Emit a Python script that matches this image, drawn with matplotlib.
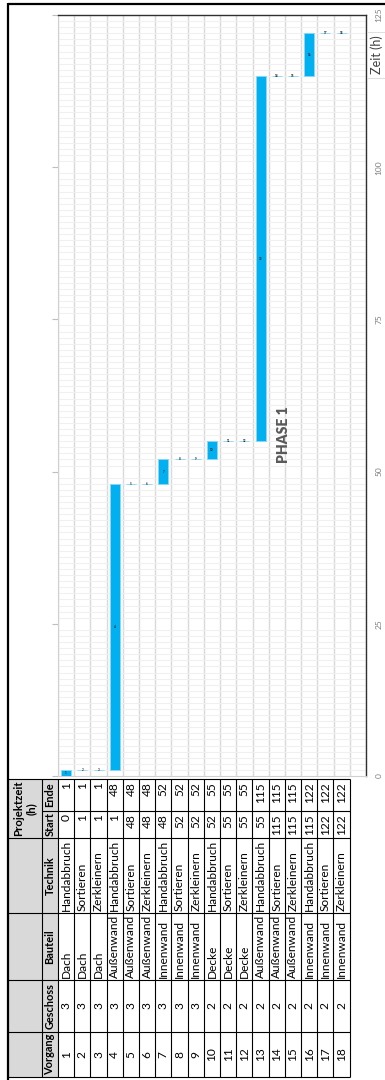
import numpy as np
import matplotlib
matplotlib.use('Agg')
import matplotlib.pyplot as plt
import matplotlib.patches as mpatches

plt.rcParams['font.family'] = ['Lato', 'DejaVu Sans']

# table / gantt data
vorgang = [1, 2, 3, 4, 5, 6, 7, 8, 9, 10, 11, 12, 13, 14, 15, 16, 17, 18]
geschoss = [3, 3, 3, 3, 3, 3, 3, 3, 3, 2, 2, 2, 2, 2, 2, 2, 2, 2]
bauteil = ['Dach', 'Dach', 'Dach', 'Außenwand', 'Außenwand', 'Außenwand',
           'Innenwand', 'Innenwand', 'Innenwand', 'Decke', 'Decke', 'Decke',
           'Außenwand', 'Außenwand', 'Außenwand', 'Innenwand', 'Innenwand', 'Innenwand']
technik = ['Handabbruch', 'Sortieren', 'Zerkleinern', 'Handabbruch', 'Sortieren', 'Zerkleinern',
           'Handabbruch', 'Sortieren', 'Zerkleinern', 'Handabbruch', 'Sortieren', 'Zerkleinern',
           'Handabbruch', 'Sortieren', 'Zerkleinern', 'Handabbruch', 'Sortieren', 'Zerkleinern']
start = [0, 1, 1, 1, 48, 48, 48, 52, 52, 52, 55, 55, 55, 115, 115, 115, 122, 122]
ende = [1, 1, 1, 48, 48, 48, 52, 52, 52, 55, 55, 55, 115, 115, 115, 122, 122, 122]
time_ticks = [0, 25, 50, 75, 100, 125]

W, H = 385, 1080
ROW_X0, ROW_W = 58, 16.2
HEAD_SPLIT = 42
# column bands (pixel y, top -> bottom): Ende, Start, Technik, Bauteil, Geschoss, Vorgang
COL_Y = [779, 811, 838, 913, 980, 1032, 1077]

fig = plt.figure(figsize=(W / 100, H / 100), dpi=100)
fig.patch.set_facecolor('white')

# pixel overlay for frame + table
tab = fig.add_axes([0, 0, 1, 1], zorder=0)
tab.set_xlim(0, W)
tab.set_ylim(H, 0)
tab.axis('off')


def hline(y, x0, x1, lw=0.8, color='black'):
    tab.plot([x0, x1], [y, y], color=color, lw=lw, solid_capstyle='butt')


def vline(x, y0, y1, lw=0.8, color='black'):
    tab.plot([x, x], [y0, y1], color=color, lw=lw, solid_capstyle='butt')


def cell_text(txt, row, band, align, bold=False, x=None, size=8.6):
    cx = x if x is not None else ROW_X0 + (row + 0.5) * ROW_W
    top, bot = COL_Y[band], COL_Y[band + 1]
    if align == 'right':
        y, ha = top + 3, 'right'
    elif align == 'left':
        y, ha = bot - 2, 'left'
    else:
        y, ha = (top + bot) / 2, 'center'
    return tab.text(cx, y, txt, rotation=90, rotation_mode='anchor', ha=ha, va='center',
                    fontsize=size, fontweight='bold' if bold else 'normal', color='black')


n = len(vorgang)
row_end = ROW_X0 + n * ROW_W

# header fill
tab.add_patch(mpatches.Rectangle((8, COL_Y[0]), ROW_X0 - 8, COL_Y[-1] - COL_Y[0],
                                 facecolor='#d9d9d9', edgecolor='none'))

# grid lines of the table
for i in range(n + 1):
    vline(ROW_X0 + i * ROW_W, COL_Y[0], COL_Y[-1])
vline(HEAD_SPLIT, COL_Y[0], COL_Y[-1])
for k, y in enumerate(COL_Y):
    x0 = HEAD_SPLIT if k == 1 else 8
    hline(y, x0, row_end)

# header labels
t = cell_text('Projektzeit\n(h)', 0, 0, 'center', bold=True, x=(8 + HEAD_SPLIT) / 2, size=8.2)
t.set_y((COL_Y[0] + COL_Y[2]) / 2)
t.set_multialignment('center')
hx = (HEAD_SPLIT + ROW_X0) / 2
for band, lab in enumerate(['Ende', 'Start', 'Technik', 'Bauteil', 'Geschoss', 'Vorgang']):
    cell_text(lab, 0, band, 'center', bold=True, x=hx, size=7.9)

for i in range(n):
    cell_text(str(ende[i]), i, 0, 'right')
    cell_text(str(start[i]), i, 1, 'right')
    cell_text(technik[i], i, 2, 'left')
    cell_text(bauteil[i], i, 3, 'left')
    cell_text(str(geschoss[i]), i, 4, 'center')
    cell_text(str(vorgang[i]), i, 5, 'center')

# outer frame
vline(8, 3, H, lw=1.6)
hline(4, 8, W, lw=1.6)

# gantt chart
ax = fig.add_axes([ROW_X0 / W, 1 - 776 / H, (366 - ROW_X0) / W, (776 - 15) / H], zorder=1)
idx = np.arange(n)
dur = np.array(ende) - np.array(start)
ax.bar(idx, dur, bottom=start, width=0.62, color='#00b0f0', edgecolor='#8ad8f6',
       linewidth=0.6, zorder=3)
for i in range(n):
    ax.text(idx[i], start[i] + dur[i] / 2, str(vorgang[i]), fontsize=2.2,
            ha='center', va='center', color='#202020', fontweight='bold', zorder=4)

ax.set_xlim(-0.5, n + 0.5)
ax.set_ylim(0, 125)
ax.set_xticks([])
ax.set_xticks(np.arange(-0.5, n + 1, 1), minor=True)
ax.set_yticks(time_ticks)
ax.set_yticks(np.arange(0, 126, 1), minor=True)
ax.grid(which='minor', axis='x', color='#d9d9d9', lw=1.0, zorder=0)
ax.grid(which='minor', axis='y', color='#f0f0f0', lw=0.8, zorder=0)
ax.tick_params(axis='x', which='both', length=0)
ax.tick_params(axis='y', which='minor', length=0)
ax.tick_params(axis='y', which='major', left=True, right=False, labelleft=False,
               labelright=True, length=4, color='#bfbfbf', labelsize=6,
               labelcolor='#7f7f7f', labelrotation=90, pad=3)
for lab in ax.get_yticklabels():
    lab.set_va('center')
for side in ['left', 'bottom']:
    ax.spines[side].set_color('#d0d0d0')
for side in ['top', 'right']:
    ax.spines[side].set_color('#303030')
    ax.spines[side].set_linewidth(1.0)

fig.text(284 / W, 1 - 435 / H, 'PHASE 1', rotation=90, ha='center', va='center',
         fontsize=10, fontweight='heavy', color='#595959', zorder=5)
fig.text(377 / W, 1 - 55 / H, 'Zeit (h)', rotation=90, ha='center', va='center',
         fontsize=9, color='#404040', zorder=5,
         bbox=dict(boxstyle='square,pad=0.3', facecolor='white', edgecolor='#d9d9d9', lw=0.6))

fig.savefig('out.png', dpi=100)
